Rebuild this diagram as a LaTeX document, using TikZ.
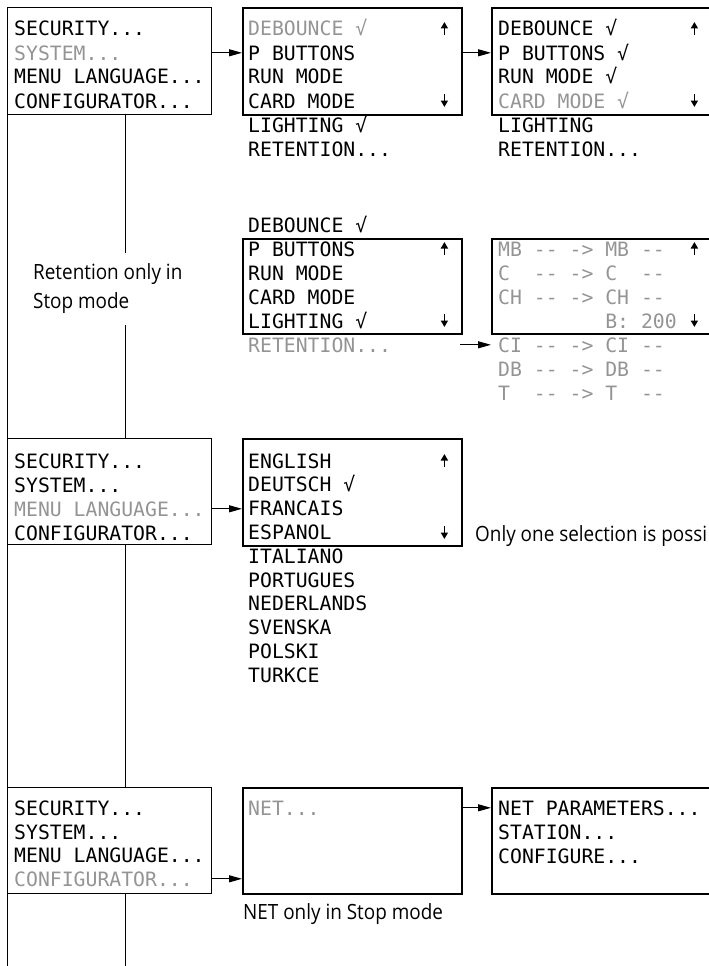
\documentclass[tikz,border=0pt]{standalone}
\usepackage{fontspec}
\setmonofont{DejaVu Sans Mono}
\setsansfont{Open Sans}[FakeStretch=0.9]
\usepackage{xcolor}
\usepackage{tikz}
\usetikzlibrary{arrows.meta}

\colorlet{lit}{black}
\colorlet{dim}{black!42}

\begin{document}
\begin{tikzpicture}[x=1pt,y=-1pt,
    lcd/.style={anchor=base west,inner sep=0pt,font=\ttfamily\fontsize{19.77}{24}\selectfont},
    menubox/.style={draw,line width=1.2pt,anchor=north west,inner sep=0pt,minimum width=204pt},
    screen/.style={draw,line width=2pt,anchor=north west,inner sep=0pt},
    wire/.style={line width=1pt},
    conn/.style={wire,-{Triangle[length=13pt,width=7pt]}},
    scroll/.style={line width=1.8pt,-{Triangle[length=6.5pt,width=7pt]}},
    note/.style={anchor=base west,inner sep=0pt,font=\sffamily\fontsize{21}{29}\selectfont}]
  \useasboundingbox (0,0) rectangle (709,966);
  \clip (0,0) rectangle (709,966);

  % main menu, shown three times
  \node[menubox,minimum height=107pt] (menuA) at (7,7) {};
  \node[menubox,minimum height=106pt] (menuB) at (7,438) {};
  \node[menubox,minimum height=106pt] (menuC) at (7,787) {};
  \foreach \t/\a/\b/\c [count=\i] in {SECURITY{...}/lit/lit/lit, SYSTEM{...}/dim/lit/lit,
      MENU~LANGUAGE{...}/lit/dim/lit, CONFIGURATOR{...}/lit/lit/dim} {
    \node[lcd,text=\a] (menuA-\i) at (14,{36+24*(\i-1)}) {\t};
    \node[lcd,text=\b] (menuB-\i) at (14,{468+24*(\i-1)}) {\t};
    \node[lcd,text=\c] (menuC-\i) at (14,{815.5+23.5*(\i-1)}) {\t};
  }

  % tree lines on the left
  \coordinate (trunk) at (125,0);
  \coordinate (gapA) at (125,253);
  \coordinate (gapB) at (125,325);
  \coordinate (tailL) at (7,966);
  \coordinate (tailR) at (125,966);
  \draw[wire] (menuA.south west) -- (tailL);
  \draw[wire] (menuA.south -| trunk) -- (gapA);
  \draw[wire] (gapB) -- (menuB.north -| trunk);
  \draw[wire] (menuB.south -| trunk) -- (menuC.north -| trunk);
  \draw[wire] (menuC.south -| trunk) -- (tailR);

  % system screens
  \node[screen,minimum width=219pt,minimum height=107pt] (sysA) at (242,7) {};
  \node[screen,minimum width=219pt,minimum height=95pt] (sysB) at (242,238) {};
  \node[screen,minimum width=240pt,minimum height=107pt] (sysC) at (491,7) {};
  \foreach \t/\a/\b [count=\i] in {DEBOUNCE~√/dim/lit, P~BUTTONS/lit/lit, RUN~MODE/lit/lit,
      CARD~MODE/lit/lit, LIGHTING~√/lit/lit, RETENTION{...}/lit/dim} {
    \node[lcd,text=\a] (sysA-\i) at (248,{36+24*(\i-1)}) {\t};
    \node[lcd,text=\b] (sysB-\i) at (248,{232+24*(\i-1)}) {\t};
  }
  \foreach \t/\a [count=\i] in {DEBOUNCE~√/lit, P~BUTTONS~√/lit, RUN~MODE~√/lit,
      CARD~MODE~√/dim, LIGHTING/lit, RETENTION{...}/lit}
    \node[lcd,text=\a] (sysC-\i) at (498,{36+24*(\i-1)}) {\t};

  % retention screen
  \node[screen,minimum width=240pt,minimum height=95pt] (retA) at (491,238) {};
  \foreach \t [count=\i] in {MB~-{}-~->~MB~-{}-, C~~-{}-~->~C~~-{}-, CH~-{}-~->~CH~-{}-,
      ~~~~~~~~~B:~200, CI~-{}-~->~CI~-{}-, DB~-{}-~->~DB~-{}-, T~~-{}-~->~T~~-{}-}
    \node[lcd,text=dim] (retA-\i) at (498,{256+24*(\i-1)}) {\t};

  % language screen
  \node[screen,minimum width=219pt,minimum height=107pt] (langA) at (242,438) {};
  \foreach \t [count=\i] in {ENGLISH, DEUTSCH~√, FRANCAIS, ESPANOL, ITALIANO,
      PORTUGUES, NEDERLANDS, SVENSKA, POLSKI, TURKCE}
    \node[lcd] (langA-\i) at (248,{468+23.8*(\i-1)}) {\t};

  % configurator screens
  \node[screen,minimum width=219pt,minimum height=106pt] (netA) at (242,787) {};
  \node[screen,minimum width=240pt,minimum height=106pt] (netB) at (491,787) {};
  \node[lcd,text=dim] (netA-1) at (248,815) {NET...};
  \foreach \t [count=\i] in {NET~PARAMETERS{...}, STATION{...}, CONFIGURE{...}}
    \node[lcd] (netB-\i) at (498,{815+24*(\i-1)}) {\t};

  % scroll marks
  \foreach \x/\y in {444.4/36, 694.4/36, 444.4/256, 694.4/256, 444.4/468} {
    \draw[scroll] (\x,{\y-1}) -- (\x,{\y-14});
    \draw[scroll] (\x,{\y+58}) -- (\x,{\y+71});
  }

  % connectors
  \coordinate (retsrc) at (460,0);
  \draw[conn] (menuA.east |- menuA-2) -- (sysA.west |- menuA-2);
  \draw[conn] (sysA.east |- sysA-2) -- (sysC.west |- sysA-2);
  \draw[conn] (retsrc |- retA-5) -- (retA.west |- retA-5);
  \draw[conn] (menuB.east |- menuB-3) -- (langA.west |- menuB-3);
  \draw[conn] (menuC.east |- menuC-4) -- (netA.west |- menuC-4);
  \draw[conn] (netA.east |- netA-1) -- (netB.west |- netA-1);

  % notes
  \node[note] (retnoteA) at (33,279) {Retention only in};
  \node[note] (retnoteB) at (33,308) {Stop mode};
  \node[note] (langnote) at (475,541) {Only one selection is possi};
  \node[note] (netnote) at (243,919) {NET only in Stop mode};
\end{tikzpicture}
\end{document}
